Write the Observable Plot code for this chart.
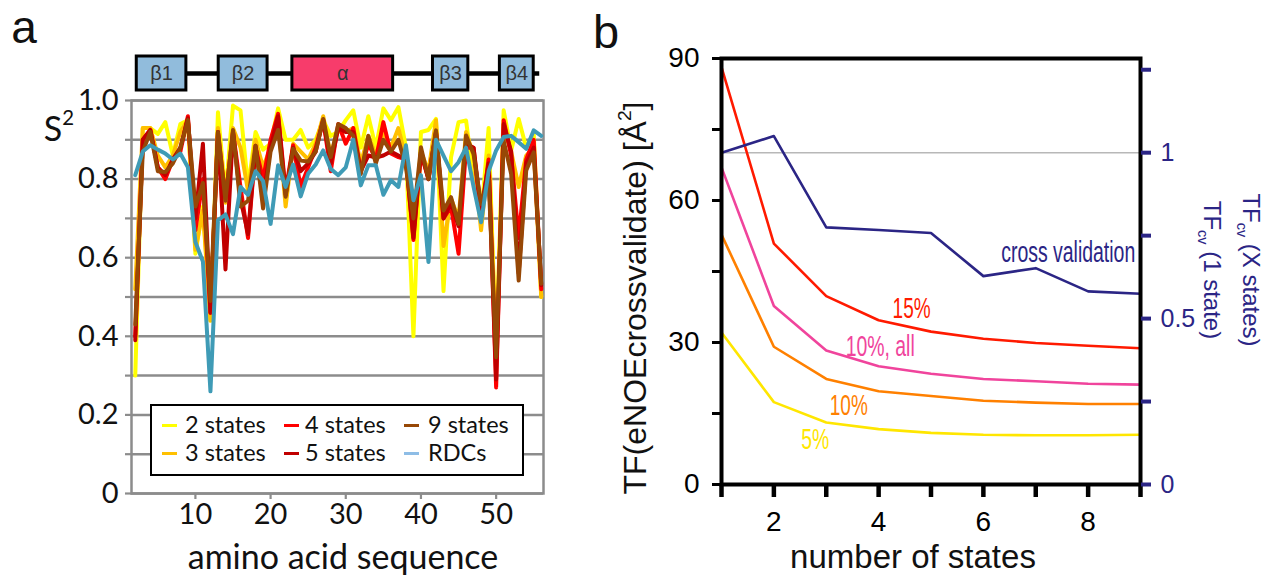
<!DOCTYPE html>
<html lang="en">
<head>
<meta charset="utf-8">
<script src="https://cdn.jsdelivr.net/npm/d3@7"></script>
<script src="https://cdn.jsdelivr.net/npm/@observablehq/plot@0.6"></script>
<style>
html,body{margin:0;padding:0;background:#fff;}
#fig{position:relative;width:1266px;height:575px;overflow:hidden;background:#fff;}
#fig svg{position:absolute;overflow:visible;}
.lbl{position:absolute;white-space:nowrap;line-height:1;}
</style>
</head>
<body>
<div id="fig"></div>
<script>
// ================= Panel a data =================
const residues = d3.range(2, 57);
const s2States2 = [0.30,0.93,0.93,0.915,0.945,0.86,0.94,0.95,0.61,0.73,
  0.44,0.97,0.76,0.987,0.975,0.78,0.92,0.875,0.89,0.98,
  0.90,0.90,0.925,0.88,0.90,0.95,0.91,0.92,0.95,0.975,
  0.88,0.96,0.88,0.98,0.95,0.983,0.88,0.40,0.92,0.925,
  0.953,0.515,0.856,0.945,0.949,0.80,0.70,0.93,0.35,0.975,
  0.873,0.953,0.88,0.915,0.50];
const s2States3 = [0.52,0.93,0.93,0.86,0.83,0.86,0.92,0.95,0.62,0.72,
  0.44,0.93,0.74,0.93,0.88,0.77,0.90,0.83,0.88,0.95,
  0.73,0.89,0.87,0.85,0.89,0.96,0.86,0.93,0.92,0.93,
  0.84,0.91,0.86,0.92,0.88,0.93,0.85,0.68,0.87,0.82,
  0.95,0.63,0.75,0.70,0.92,0.86,0.67,0.86,0.37,0.93,
  0.87,0.78,0.86,0.88,0.50];
const s2States4 = [0.40,0.90,0.925,0.83,0.80,0.85,0.87,0.96,0.67,0.80,
  0.46,0.92,0.75,0.92,0.78,0.65,0.88,0.80,0.90,0.966,
  0.77,0.886,0.78,0.83,0.88,0.95,0.82,0.94,0.89,0.93,
  0.82,0.89,0.85,0.945,0.865,0.856,0.85,0.645,0.865,0.80,
  0.92,0.70,0.73,0.61,0.88,0.88,0.70,0.85,0.27,0.95,
  0.86,0.65,0.85,0.90,0.52];
const s2States5 = [0.39,0.90,0.925,0.83,0.81,0.85,0.88,0.955,0.70,0.89,
  0.46,0.92,0.57,0.92,0.75,0.66,0.885,0.75,0.88,0.96,
  0.76,0.88,0.82,0.84,0.87,0.95,0.84,0.93,0.92,0.92,
  0.82,0.86,0.855,0.86,0.87,0.86,0.85,0.65,0.87,0.80,
  0.92,0.70,0.74,0.68,0.89,0.88,0.72,0.84,0.29,0.94,
  0.87,0.56,0.84,0.88,0.53];
const s2States9 = [0.43,0.87,0.92,0.82,0.818,0.84,0.88,0.95,0.73,0.79,
  0.49,0.92,0.745,0.925,0.73,0.745,0.885,0.725,0.87,0.925,
  0.755,0.877,0.847,0.845,0.87,0.953,0.856,0.94,0.93,0.91,
  0.813,0.91,0.84,0.90,0.87,0.90,0.83,0.70,0.881,0.80,
  0.924,0.72,0.754,0.686,0.911,0.864,0.737,0.80,0.347,0.898,
  0.813,0.542,0.822,0.868,0.534];
const s2RDC = [0.81,0.87,0.886,0.875,0.865,0.85,0.865,0.83,0.64,0.59,
  0.26,0.695,0.71,0.66,0.78,0.76,0.82,0.795,0.686,0.835,
  0.78,0.837,0.756,0.814,0.837,0.873,0.826,0.81,0.83,0.90,
  0.784,0.835,0.835,0.76,0.797,0.78,0.886,0.746,0.81,0.589,
  0.90,0.86,0.82,0.843,0.88,0.78,0.69,0.82,0.873,0.907,
  0.91,0.894,0.877,0.924,0.91];
const seriesNames = ["2 states","3 states","4 states","5 states","9 states","RDCs"];
const seriesColors = ["#ffff00","#ffc000","#ff0000","#c00000","#974806","#3f9bb6"];
const legendColors = ["#ffff00","#ffc000","#ff0000","#c00000","#974806","#8ebde6"];
const s2Ticks = [0,0.1,0.2,0.3,0.4,0.5,0.6,0.7,0.8,0.9,1.0];
const s2Labels = [0,0.2,0.4,0.6,0.8,1.0];
const residueTicks = [10,20,30,40,50];

// secondary structure (residue ranges)
const ssLabels = ["β1","β2","α","β3","β4"];
const ssStart = [2.2, 13.1, 22.9, 41.6, 50.5];
const ssEnd = [8.8, 19.6, 36.3, 46.3, 55.0];
const ssType = ["strand","strand","helix","strand","strand"];
const backbone = [2.2, 55.8];

// ================= Panel b data =================
const nStates = [1,2,3,4,5,6,7,8,9];
const tf15 = [88.2,50.9,39.8,34.7,32.3,30.8,29.9,29.3,28.8];
const tf10all = [67.0,37.7,28.3,25.0,23.4,22.3,21.8,21.3,21.1];
const tf10 = [52.8,29.1,22.3,19.7,18.7,17.7,17.3,17.0,17.0];
const tf5 = [32.1,17.4,13.1,11.7,10.9,10.5,10.4,10.4,10.5];
const cvRatio = [1.0,1.05,0.775,0.767,0.758,0.628,0.652,0.582,0.575]; // right axis
const leftTicks = [0,15,30,45,60,75,90];
const leftLabels = [0,30,60,90];
const stateTicks = [1,2,3,4,5,6,7,8,9];
const stateLabels = [2,4,6,8];
const rightTicks = [0,0.25,0.5,0.75,1,1.25];
const rightLabels = [0,0.5,1];
const refRatio = [1];
const annLabels = ["cross validation","15%","10%, all","10%","5%"];
const annStates = [7.62,4.63,4.03,3.43,2.79];
const annValues = [49.0,37.2,29.2,16.7,9.6];

// ================= drawing =================
const fig = document.getElementById("fig");
function put(el, left, top){ el.style.left = left + "px"; el.style.top = top + "px"; fig.appendChild(el); return el; }
function label(html, cx, cy, css){
  const d = document.createElement("div");
  d.className = "lbl"; d.innerHTML = html;
  d.style.cssText += css + `;left:${cx}px;top:${cy}px;transform:translate(-50%,-50%)` ;
  fig.appendChild(d); return d;
}
function rlabel(html, cx, cy, css, deg){
  const d = document.createElement("div");
  d.className = "lbl"; d.innerHTML = html;
  d.style.cssText += css + `;left:${cx}px;top:${cy}px;transform:translate(-50%,-50%) rotate(${deg}deg)`;
  fig.appendChild(d); return d;
}

const xDomainA = [1.5, 56.3];
const seriesValues = [s2States2,s2States3,s2States4,s2States5,s2States9,s2RDC];
const rowsA = seriesNames.flatMap((name, si) => residues.map((r, i) => ({series: name, residue: r, s2: seriesValues[si][i]})));
const gridGray = "#8c8c8c";

const plotA = Plot.plot({
  width: 570, height: 575,
  marginLeft: 131, marginRight: 27, marginTop: 100, marginBottom: 82,
  x: {domain: xDomainA},
  y: {domain: [0, 1]},
  color: {domain: seriesNames, range: seriesColors},
  style: {fontFamily: "Lato, sans-serif", fontSize: "29px", background: "transparent"},
  marks: [
    Plot.gridY(s2Ticks, {stroke: gridGray, strokeOpacity: 1, strokeWidth: 2.5}),
    Plot.frame({stroke: gridGray, strokeWidth: 2.5}),
    Plot.axisY(s2Ticks, {tickSize: 6, color: gridGray, strokeWidth: 2.2, tickFormat: () => "", label: null}),
    Plot.axisY(s2Labels, {tickSize: 0, tickPadding: 13, color: "#111", tickFormat: d => d === 0 ? "0" : d.toFixed(1), label: null}),
    Plot.axisX(residueTicks, {tickSize: 6, color: gridGray, strokeWidth: 2.2, tickFormat: () => "", label: null}),
    Plot.axisX(residueTicks, {tickSize: 0, tickPadding: 10, color: "#111", label: null}),
    Plot.line(rowsA, {x: "residue", y: "s2", z: "series", stroke: "series", strokeWidth: 4})
  ]
});
put(plotA, 0, 0);

// secondary-structure bar
const ssRows = ssLabels.map((l, i) => ({label: l, start: ssStart[i], end: ssEnd[i], type: ssType[i]}));
const plotSS = Plot.plot({
  width: 570, height: 38,
  marginLeft: 131, marginRight: 27, marginTop: 2, marginBottom: 2,
  x: {domain: xDomainA, axis: null},
  y: {domain: [0, 1], axis: null},
  style: {fontFamily: "'Liberation Sans', Arial, sans-serif", fontSize: "20px", background: "transparent"},
  marks: [
    Plot.ruleY([backbone], {x1: d => d[0], x2: d => d[1], y: 0.5, stroke: "#000", strokeWidth: 4.5}),
    Plot.rect(ssRows, {x1: "start", x2: "end", fill: d => d.type === "helix" ? "#f73c6b" : "#91bcdc", stroke: "#000", strokeWidth: 3}),
    Plot.text(ssRows, {x: d => (d.start + d.end) / 2, y: 0.5, text: "label", fill: "#333"})
  ]
});
put(plotSS, 0, 54);

// legend (panel a)
const leg = document.createElement("div");
leg.style.cssText = "position:absolute;left:150px;top:404px;width:374px;height:72px;box-sizing:border-box;border:2px solid #000;background:#fff;font-family:Lato,sans-serif;font-size:23.5px;color:#111;";
const swL = [10, 132, 252], txL = [33, 153, 276], rowC = [19, 47];
seriesNames.forEach((name, i) => {
  const col = Math.floor(i / 2), row = i % 2;
  const sw = document.createElement("div");
  sw.style.cssText = `position:absolute;left:${swL[col]}px;top:${rowC[row]-1.5}px;width:15px;height:3px;background:${legendColors[i]}`;
  const tx = document.createElement("div");
  tx.textContent = name;
  tx.style.cssText = `position:absolute;left:${txL[col]}px;top:${rowC[row]}px;transform:translateY(-50%);line-height:1;white-space:nowrap`;
  leg.appendChild(sw); leg.appendChild(tx);
});
fig.appendChild(leg);

// panel a texts
label("a", 24, 27, "font-family:'Liberation Sans',Arial,sans-serif;font-size:46px;color:#111");
label("S<sup style='font-size:0.6em;vertical-align:0.8em'>2</sup>", 59, 126, "font-family:Lato,sans-serif;font-size:34px;color:#111");
label("amino acid sequence", 343, 556, "font-family:Lato,sans-serif;font-size:34px;color:#111");

// ================= Panel b =================
const kRatio = 70.1; // left-axis units per right-axis unit
const navy = "#2b2585";
const curves = [
  {vals: tf5, color: "#ffe600"},
  {vals: tf10, color: "#ff8000"},
  {vals: tf10all, color: "#f0449c"},
  {vals: tf15, color: "#ff1a00"},
  {vals: cvRatio.map(v => v * kRatio), color: navy}
];
const annColors = [navy, "#ff1a00", "#f0449c", "#ff8000", "#ffe600"];
const annWidths = [134, 38, 69, 38, 28];

const plotB = Plot.plot({
  width: 686, height: 575,
  marginLeft: 141, marginRight: 126, marginTop: 58, marginBottom: 91,
  x: {domain: [1, 9]},
  y: {domain: [0, 90]},
  color: {type: "identity"},
  style: {fontFamily: "'Liberation Sans', Arial, sans-serif", fontSize: "28px", background: "transparent"},
  marks: [
    Plot.ruleY(refRatio, {y: d => d * kRatio, stroke: "#b8b8b8", strokeWidth: 1.5}),
    ...curves.map(c => Plot.line(nStates, {x: d => d, y: (d, i) => c.vals[i], stroke: c.color, strokeWidth: 2.6})),
    Plot.frame({stroke: "#000", strokeWidth: 4}),
    Plot.axisY(leftTicks, {tickSize: 9, tickPadding: 13, strokeWidth: 3, color: "#000", tickFormat: d => leftLabels.includes(d) ? String(d) : "", label: null}),
    Plot.axisX(stateTicks, {tickSize: 13, tickPadding: 14, strokeWidth: 4.5, color: "#000", tickFormat: d => stateLabels.includes(d) ? String(d) : "", label: null}),
    Plot.axisY(rightTicks.map(v => v * kRatio), {anchor: "right", tickSize: 10, tickPadding: 10, strokeWidth: 4, color: navy, fontSize: 25,
      tickFormat: v => { const r = Math.round(v / kRatio * 100) / 100; return rightLabels.includes(r) ? String(r) : ""; }, label: null}),
    Plot.text(annLabels, {x: (d, i) => annStates[i], y: (d, i) => annValues[i], text: d => d, fill: (d, i) => annColors[i], fontSize: 30})
  ]
});
put(plotB, 580, 0);
plotB.querySelectorAll('g[aria-label="text"] text').forEach((t, i) => {
  t.setAttribute("textLength", annWidths[i]);
  t.setAttribute("lengthAdjust", "spacingAndGlyphs");
});

label("b", 606, 31, "font-family:'Liberation Sans',Arial,sans-serif;font-size:47px;color:#111");
label("number of states", 913, 556, "font-family:'Liberation Sans',Arial,sans-serif;font-size:33px;color:#111");
rlabel("TF(eNOEcrossvalidate) [Å<sup style='font-size:0.6em;vertical-align:0.8em'>2</sup>]", 633, 298,
  "font-family:'Liberation Sans',Arial,sans-serif;font-size:32px;color:#111", -90);
rlabel("<div>TF<sub style='font-size:0.6em'>cv</sub> (X states)</div><div style='margin-top:11px'>TF<sub style='font-size:0.6em'>cv</sub> (1 state)</div>", 1229, 270,
  `font-family:'Liberation Sans',Arial,sans-serif;font-size:24px;color:${navy};text-align:center`, 90);
</script>
</body>
</html>
